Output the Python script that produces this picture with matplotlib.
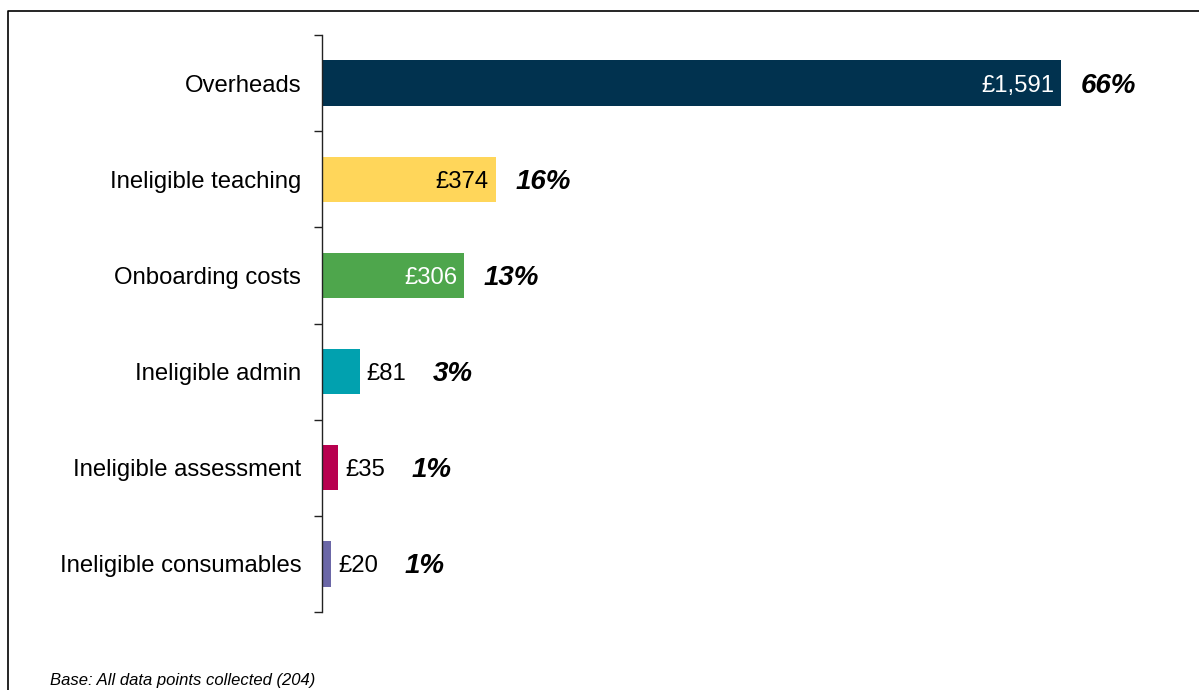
"""
Horizontal bar chart: breakdown of ineligible / overhead costs
"""
import matplotlib.pyplot as plt
from matplotlib.lines import Line2D
import numpy as np

plt.rcParams["font.family"] = ["Liberation Sans", "DejaVu Sans"]

# Data
categories = ["Overheads", "Ineligible teaching", "Onboarding costs",
              "Ineligible admin", "Ineligible assessment", "Ineligible consumables"]
values = [1591, 374, 306, 81, 35, 20]
percents = [66, 16, 13, 3, 1, 1]
value_inside = [True, True, True, False, False, False]

colors = ["#01324f", "#ffd65a", "#4ea64c", "#01a1af", "#b8004f", "#6b67a7"]
inside_text = ["white", "black", "white", "black", "black", "black"]

W, H = 1199, 690
fig = plt.figure(figsize=(W / 100, H / 100), dpi=100)

# axes placed in pixel terms
left, right, top, bottom = 322, 1190, 35, 612
ax = fig.add_axes([left / W, 1 - bottom / H, (right - left) / W, (bottom - top) / H])

px_per_unit = (1061 - 322) / 1591
ax.set_xlim(0, (right - left) / px_per_unit)

y = np.arange(len(categories))
ax.barh(y, values, height=0.47, color=colors)
ax.set_ylim(len(categories) - 0.5, -0.5)

# ticks at category boundaries, labels in between
ax.set_yticks(np.arange(-0.5, len(categories)), minor=False)
ax.set_yticklabels([])
ax.set_yticks(y, minor=True)
ax.set_yticklabels(categories, minor=True, fontsize=17.2)
ax.tick_params(axis="y", which="major", length=6, width=1, direction="out", color="#222222")
ax.tick_params(axis="y", which="minor", length=0, pad=15)
ax.set_xticks([])

for s in ["top", "right", "bottom"]:
    ax.spines[s].set_visible(False)
ax.spines["left"].set_linewidth(1)
ax.spines["left"].set_color("#222222")

# value and percentage labels
for i, (v, p) in enumerate(zip(values, percents)):
    if value_inside[i]:
        ax.annotate("£{:,}".format(v), xy=(v, i), xytext=(-5, 0), textcoords="offset points",
                    ha="right", va="center_baseline", fontsize=17.2, color=inside_text[i])
        ax.annotate("{}%".format(p), xy=(v, i), xytext=(14, 0), textcoords="offset points",
                    ha="left", va="center_baseline", fontsize=20, fontweight="bold",
                    fontstyle="italic")
    else:
        t = ax.annotate("£{:,}".format(v), xy=(v, i), xytext=(5, 0), textcoords="offset points",
                        ha="left", va="center_baseline", fontsize=17.2, color="black")
        ax.annotate("{}%".format(p), xy=(1, 0.5), xycoords=t, xytext=(19, 0),
                    textcoords="offset points", ha="left", va="center",
                    fontsize=20, fontweight="bold", fontstyle="italic")

# outer frame (top and left edges)
fig.add_artist(Line2D([8 / W, 8 / W, 1.01], [-0.01, 1 - 11 / H, 1 - 11 / H],
                      transform=fig.transFigure, color="black", linewidth=1.2))

fig.text(50 / W, 1 - 685 / H, "Base: All data points collected (204)", fontsize=12,
         fontstyle="italic", ha="left", va="baseline")

plt.savefig("out.png", dpi=100)
